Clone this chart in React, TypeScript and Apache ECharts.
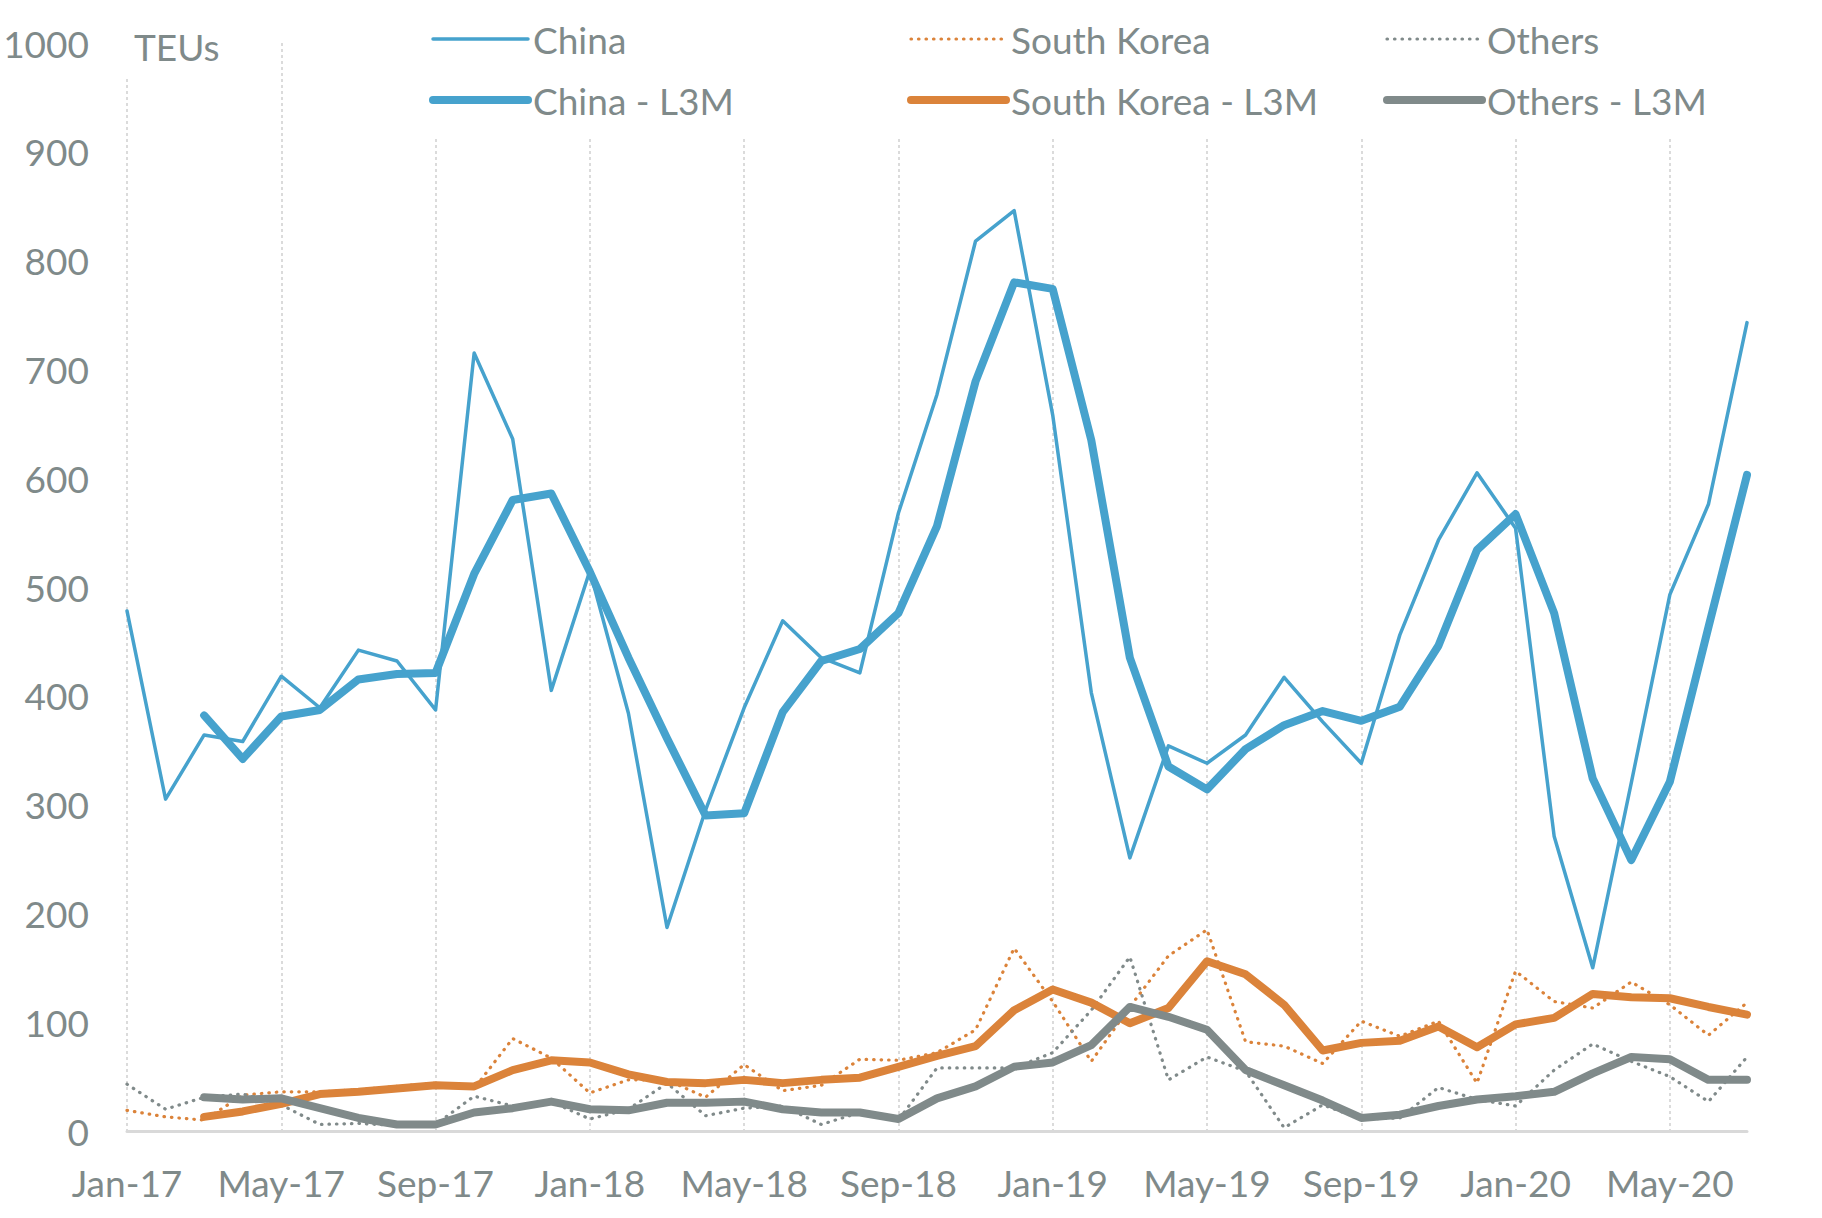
import React, { useEffect, useRef } from "react";
import * as echarts from "echarts";

const months = [
  "Jan-17","Feb-17","Mar-17","Apr-17","May-17","Jun-17","Jul-17","Aug-17","Sep-17","Oct-17","Nov-17","Dec-17",
  "Jan-18","Feb-18","Mar-18","Apr-18","May-18","Jun-18","Jul-18","Aug-18","Sep-18","Oct-18","Nov-18","Dec-18",
  "Jan-19","Feb-19","Mar-19","Apr-19","May-19","Jun-19","Jul-19","Aug-19","Sep-19","Oct-19","Nov-19","Dec-19",
  "Jan-20","Feb-20","Mar-20","Apr-20","May-20","Jun-20","Jul-20",
];

const china = [478,305,364,358,418,389,442,432,387,715,636,405,515,384,187,295,389,469,435,421,568,677,818,846,658,403,251,354,338,364,417,376,338,456,543,605,554,271,150,320,493,576,743];
const chinaL3M = [null,null,382,342,381,387,415,420,421,512,580,586,514,435,361,290,292,385,432,443,476,556,689,780,774,635,435,335,314,351,373,386,377,390,446,534,567,476,324,249,321,463,603];
const korea = [19,13,10,33,36,36,38,41,44,39,85,67,35,47,47,31,61,37,42,66,65,72,93,168,119,64,114,161,185,82,78,62,101,87,101,44,147,119,113,137,116,88,118];
const koreaL3M = [null,null,13,18,25,34,36,39,42,41,56,65,63,52,45,44,47,44,47,49,59,69,78,111,130,118,99,113,156,144,116,74,81,83,96,77,98,104,126,123,122,114,107];
const others = [43,20,31,34,24,6,7,5,6,32,23,27,11,20,44,14,21,23,6,17,10,58,58,58,72,111,160,47,68,55,3,24,11,12,40,29,23,56,80,64,50,27,68];
const othersL3M = [null,null,31,29,30,21,12,6,6,17,21,27,20,19,26,26,27,20,17,17,11,30,41,59,63,79,114,105,93,56,42,28,12,15,23,29,32,36,53,68,66,47,47];

const BLUE = "#46A2CD";
const ORANGE = "#DB833A";
const GREY = "#808A8A";
const TEXT = "#7F8A8A";
const FONT = "Lato, 'Open Sans', sans-serif";
const FS = 37;
const DOT = [0.5, 7];

export default function App() {
  const ref = useRef<HTMLDivElement>(null);
  useEffect(() => {
    document.body.style.margin = "0";
    const chart = echarts.init(ref.current!, null, { renderer: "svg" });

    const thin = (name: string, data: any[], color: string, dotted: boolean) => ({
      type: "line",
      name,
      data,
      symbol: "none",
      showSymbol: false,
      z: 2,
      lineStyle: dotted
        ? { color, width: 3.2, type: DOT, cap: "round", join: "round" }
        : { color, width: 3.5, cap: "round", join: "round" },
      itemStyle: { color },
    });
    const thick = (name: string, data: any[], color: string) => ({
      type: "line",
      name,
      data,
      symbol: "none",
      showSymbol: false,
      z: 3,
      lineStyle: { color, width: 8, cap: "round", join: "round" },
      itemStyle: { color },
    });

    const legendBase = {
      orient: "vertical",
      top: 0,
      itemWidth: 95,
      itemHeight: 14,
      itemGap: 17,
      backgroundColor: "#ffffff",
      textStyle: { fontSize: FS, color: TEXT, fontFamily: FONT, lineHeight: 44 },
      selectedMode: false,
    };
    const hide = { opacity: 0 };

    chart.setOption({
      animation: false,
      backgroundColor: "#ffffff",
      grid: { left: 127, right: 75, top: 43, bottom: 87, containLabel: false, outerBoundsMode: "none" },
      legend: [
        {
          ...legendBase,
          left: 412,
          padding: [17, 150, 14, 17],
          data: [
            { name: "China", itemStyle: hide, lineStyle: { width: 3.5, color: BLUE } },
            { name: "China - L3M", itemStyle: hide, lineStyle: { width: 8, color: BLUE, cap: "round" } },
          ],
        },
        {
          ...legendBase,
          left: 887,
          padding: [17, 75, 14, 20],
          data: [
            { name: "South Korea", itemStyle: hide, lineStyle: { width: 3.2, color: ORANGE, type: DOT, cap: "round" } },
            { name: "South Korea - L3M", itemStyle: hide, lineStyle: { width: 8, color: ORANGE, cap: "round" } },
          ],
        },
        {
          ...legendBase,
          left: 1363,
          padding: [17, 60, 14, 20],
          data: [
            { name: "Others", itemStyle: hide, lineStyle: { width: 3.2, color: GREY, type: DOT, cap: "round" } },
            { name: "Others - L3M", itemStyle: hide, lineStyle: { width: 8, color: GREY, cap: "round" } },
          ],
        },
      ],
      graphic: [
        {
          type: "text",
          left: 122,
          top: 24,
          z: 10,
          style: {
            text: "TEUs",
            fontSize: FS,
            fontFamily: FONT,
            fill: TEXT,
            backgroundColor: "#ffffff",
            padding: [4, 4, 12, 12],
          },
        },
      ],
      xAxis: {
        type: "category",
        data: months,
        boundaryGap: false,
        axisTick: { show: false },
        axisLine: { show: true, lineStyle: { color: "#D9D9D9", width: 3 } },
        axisLabel: { interval: 3, fontSize: FS, color: TEXT, fontFamily: FONT, margin: 33 },
        splitLine: { show: true, interval: 3, lineStyle: { color: "#CFCFCF", width: 1.5, type: [3, 3] } },
      },
      yAxis: {
        type: "value",
        min: 0,
        max: 1000,
        interval: 100,
        axisLine: { show: false },
        axisTick: { show: false },
        splitLine: { show: false },
        axisLabel: {
          fontSize: FS,
          color: TEXT,
          fontFamily: FONT,
          margin: 38,
          formatter: (v: number) => String(v),
        },
      },
      series: [
        thin("China", china, BLUE, false),
        thin("South Korea", korea, ORANGE, true),
        thin("Others", others, GREY, true),
        thick("China - L3M", chinaL3M, BLUE),
        thick("South Korea - L3M", koreaL3M, ORANGE),
        thick("Others - L3M", othersL3M, GREY),
      ],
    });
    return () => chart.dispose();
  }, []);
  return <div ref={ref} style={{ width: 1822, height: 1218 }} />;
}
